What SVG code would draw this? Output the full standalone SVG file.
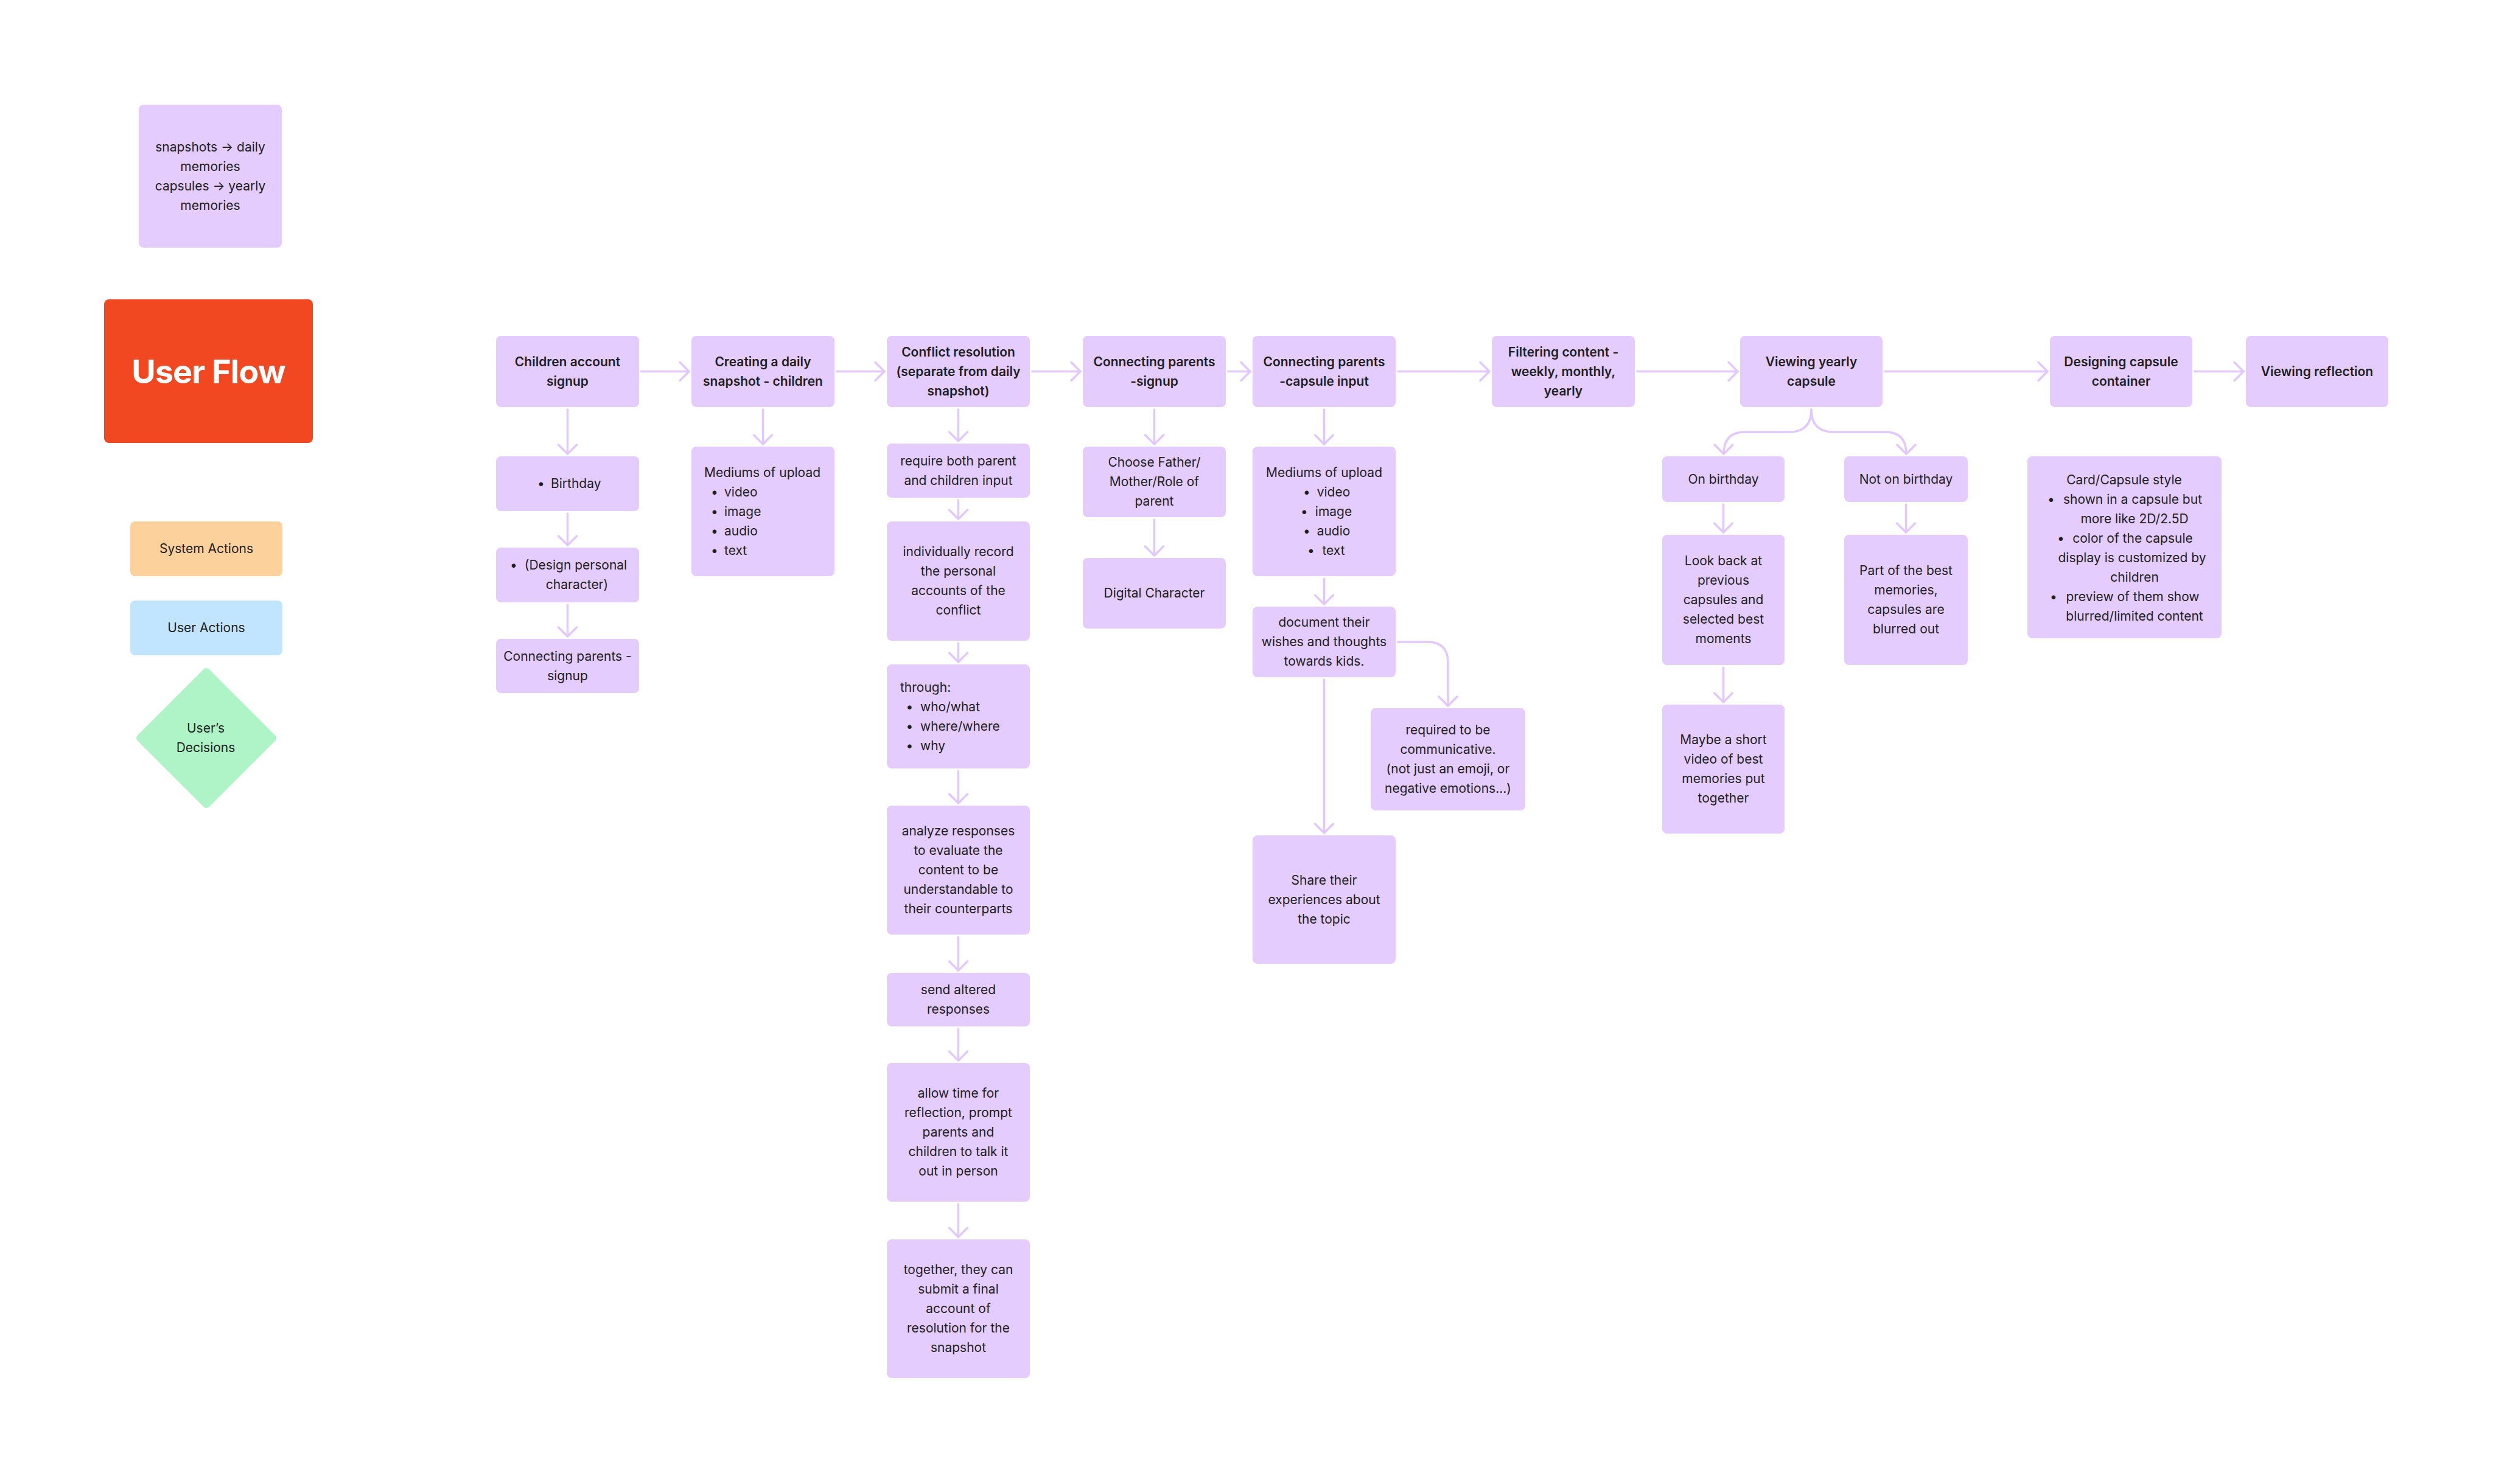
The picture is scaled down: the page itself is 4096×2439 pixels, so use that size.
<svg xmlns="http://www.w3.org/2000/svg" width="4096" height="2439" viewBox="0 0 4096 2439">
<defs>
<style>
.n{fill:#E4CCFF}
.t{font-family:Inter,"Noto Sans","Liberation Sans",sans-serif;font-size:21px;fill:#1E1E1E}
.c{text-anchor:middle}
.b{font-weight:600}
.e{fill:none;stroke:#E1C8FF;stroke-width:3.5;stroke-linecap:round;stroke-linejoin:round}
</style>
<marker id="ah" markerUnits="userSpaceOnUse" markerWidth="40" markerHeight="40" viewBox="-20 -20 40 40" refX="0" refY="0" orient="auto" overflow="visible">
<path d="M-15,-15 L0,0 L-15,15" fill="none" stroke="#E1C8FF" stroke-width="3.5" stroke-linecap="round" stroke-linejoin="round"/>
</marker>
</defs>
<rect width="4096" height="2439" fill="#FFFFFF"/>

<g id="legend">
<g id="note">
<rect class="n" x="228" y="172" width="235" height="235" rx="8"/>
<text class="t c" x="345.5"><tspan x="345.5" y="248.5">snapshots → daily</tspan><tspan x="345.5" y="280.5">memories</tspan><tspan x="345.5" y="312.5">capsules → yearly</tspan><tspan x="345.5" y="344.5">memories</tspan></text>
</g>
<g id="title">
<rect x="171" y="492" width="343" height="236" rx="8" fill="#F24822"/>
<text x="342.5" y="630" text-anchor="middle" font-family="Inter,'Noto Sans','Liberation Sans',sans-serif" font-size="54" font-weight="700" letter-spacing="-1" fill="#FFFFFF">User Flow</text>
</g>
<g id="legend-system">
<rect x="214" y="857" width="250" height="90" rx="8" fill="#FCD19C"/>
<text class="t c" x="339" y="909">System Actions</text>
</g>
<g id="legend-user">
<rect x="214" y="987" width="250" height="90" rx="8" fill="#C2E5FF"/>
<text class="t c" x="339" y="1039">User Actions</text>
</g>
<g id="legend-decision">
<polygon points="339,1104 448,1213 339,1322 230,1213" fill="#AFF4C6" stroke="#AFF4C6" stroke-width="12" stroke-linejoin="round"/>
<text class="t c" x="338"><tspan x="338" y="1204">User’s</tspan><tspan x="338" y="1236">Decisions</tspan></text>
</g>
</g>

<g id="connectors" class="e">
<line x1="1053" y1="610.5" x2="1132" y2="610.5" marker-end="url(#ah)"/>
<line x1="1375" y1="610.5" x2="1453" y2="610.5" marker-end="url(#ah)"/>
<line x1="1696" y1="610.5" x2="1775" y2="610.5" marker-end="url(#ah)"/>
<line x1="2018" y1="610.5" x2="2054" y2="610.5" marker-end="url(#ah)"/>
<line x1="2297" y1="610.5" x2="2447" y2="610.5" marker-end="url(#ah)"/>
<line x1="2690" y1="610.5" x2="2855" y2="610.5" marker-end="url(#ah)"/>
<line x1="3097" y1="610.5" x2="3364" y2="610.5" marker-end="url(#ah)"/>
<line x1="3606" y1="610.5" x2="3686" y2="610.5" marker-end="url(#ah)"/>

<line x1="932.5" y1="673" x2="932.5" y2="746" marker-end="url(#ah)"/>
<line x1="932.5" y1="844" x2="932.5" y2="896" marker-end="url(#ah)"/>
<line x1="932.5" y1="994" x2="932.5" y2="1046" marker-end="url(#ah)"/>
<line x1="1253.5" y1="673" x2="1253.5" y2="730" marker-end="url(#ah)"/>
<line x1="1574.5" y1="673" x2="1574.5" y2="725" marker-end="url(#ah)"/>
<line x1="1574.5" y1="822" x2="1574.5" y2="853" marker-end="url(#ah)"/>
<line x1="1574.5" y1="1057" x2="1574.5" y2="1088" marker-end="url(#ah)"/>
<line x1="1574.5" y1="1267" x2="1574.5" y2="1320" marker-end="url(#ah)"/>
<line x1="1574.5" y1="1540" x2="1574.5" y2="1595" marker-end="url(#ah)"/>
<line x1="1574.5" y1="1691" x2="1574.5" y2="1743" marker-end="url(#ah)"/>
<line x1="1574.5" y1="1979" x2="1574.5" y2="2033" marker-end="url(#ah)"/>
<line x1="1896.5" y1="673" x2="1896.5" y2="730" marker-end="url(#ah)"/>
<line x1="1896.5" y1="854" x2="1896.5" y2="913" marker-end="url(#ah)"/>
<line x1="2175.5" y1="673" x2="2175.5" y2="730" marker-end="url(#ah)"/>
<line x1="2175.5" y1="951" x2="2175.5" y2="993" marker-end="url(#ah)"/>
<line x1="2175.5" y1="1117" x2="2175.5" y2="1369" marker-end="url(#ah)"/>
<path d="M2297,1055 H2345 Q2379,1055 2379,1089 V1160" marker-end="url(#ah)"/>
<path d="M2976,673 Q2976,710 2940,710 H2867 Q2832,710 2832,746" marker-end="url(#ah)"/>
<path d="M2976,673 Q2976,710 3012,710 H3097 Q3132,710 3132,746" marker-end="url(#ah)"/>
<line x1="2831.5" y1="829" x2="2831.5" y2="875" marker-end="url(#ah)"/>
<line x1="2831.5" y1="1097" x2="2831.5" y2="1154" marker-end="url(#ah)"/>
<line x1="3131.5" y1="829" x2="3131.5" y2="875" marker-end="url(#ah)"/>
</g>

<g id="children-signup">
<rect class="n" x="815" y="552" width="235" height="117" rx="8"/>
<text class="t c b"><tspan x="932.5" y="601.5">Children account</tspan><tspan x="932.5" y="633.5">signup</tspan></text>
</g>
<g id="birthday">
<rect class="n" x="815" y="750" width="235" height="90" rx="8"/>
<text class="t c" x="889" y="802">•</text>
<text class="t" x="905" y="802">Birthday</text>
</g>
<g id="design-character">
<rect class="n" x="815" y="900" width="235" height="90" rx="8"/>
<text class="t c" x="844" y="936">•</text>
<text class="t c"><tspan x="946" y="936">(Design personal</tspan><tspan x="948" y="968">character)</tspan></text>
</g>
<g id="connecting-parents-signup-1">
<rect class="n" x="815" y="1050" width="235" height="89" rx="8"/>
<text class="t c"><tspan x="932.5" y="1085.5">Connecting parents -</tspan><tspan x="932.5" y="1117.5">signup</tspan></text>
</g>

<g id="daily-snapshot">
<rect class="n" x="1136" y="552" width="235" height="117" rx="8"/>
<text class="t c b"><tspan x="1253.5" y="601.5">Creating a daily</tspan><tspan x="1253.5" y="633.5">snapshot - children</tspan></text>
</g>
<g id="mediums-1">
<rect class="n" x="1136" y="734" width="235" height="213" rx="8"/>
<text class="t" x="1157" y="783.5">Mediums of upload</text>
<text class="t c"><tspan x="1174" y="815.5">•</tspan><tspan x="1174" y="847.5">•</tspan><tspan x="1174" y="879.5">•</tspan><tspan x="1174" y="911.5">•</tspan></text>
<text class="t"><tspan x="1190" y="815.5">video</tspan><tspan x="1190" y="847.5">image</tspan><tspan x="1190" y="879.5">audio</tspan><tspan x="1190" y="911.5">text</tspan></text>
</g>

<g id="conflict-resolution">
<rect class="n" x="1457" y="552" width="235" height="117" rx="8"/>
<text class="t c b"><tspan x="1574.5" y="585.5">Conflict resolution</tspan><tspan x="1574.5" y="617.5">(separate from daily</tspan><tspan x="1574.5" y="649.5">snapshot)</tspan></text>
</g>
<g id="require-input">
<rect class="n" x="1457" y="729" width="235" height="89" rx="8"/>
<text class="t c"><tspan x="1574.5" y="764.5">require both parent</tspan><tspan x="1574.5" y="796.5">and children input</tspan></text>
</g>
<g id="record-accounts">
<rect class="n" x="1457" y="857" width="235" height="196" rx="8"/>
<text class="t c"><tspan x="1574.5" y="914">individually record</tspan><tspan x="1574.5" y="946">the personal</tspan><tspan x="1574.5" y="978">accounts of the</tspan><tspan x="1574.5" y="1010">conflict</tspan></text>
</g>
<g id="through">
<rect class="n" x="1457" y="1092" width="235" height="171" rx="8"/>
<text class="t" x="1479" y="1136.5">through:</text>
<text class="t c"><tspan x="1494.5" y="1168.5">•</tspan><tspan x="1494.5" y="1200.5">•</tspan><tspan x="1494.5" y="1232.5">•</tspan></text>
<text class="t"><tspan x="1512" y="1168.5">who/what</tspan><tspan x="1512" y="1200.5">where/where</tspan><tspan x="1512" y="1232.5">why</tspan></text>
</g>
<g id="analyze">
<rect class="n" x="1457" y="1324" width="235" height="212" rx="8"/>
<text class="t c"><tspan x="1574.5" y="1373">analyze responses</tspan><tspan x="1574.5" y="1405">to evaluate the</tspan><tspan x="1574.5" y="1437">content to be</tspan><tspan x="1574.5" y="1469">understandable to</tspan><tspan x="1574.5" y="1501">their counterparts</tspan></text>
</g>
<g id="send-altered">
<rect class="n" x="1457" y="1599" width="235" height="88" rx="8"/>
<text class="t c"><tspan x="1574.5" y="1634">send altered</tspan><tspan x="1574.5" y="1666">responses</tspan></text>
</g>
<g id="allow-time">
<rect class="n" x="1457" y="1747" width="235" height="228" rx="8"/>
<text class="t c"><tspan x="1574.5" y="1804">allow time for</tspan><tspan x="1574.5" y="1836">reflection, prompt</tspan><tspan x="1574.5" y="1868">parents and</tspan><tspan x="1574.5" y="1900">children to talk it</tspan><tspan x="1574.5" y="1932">out in person</tspan></text>
</g>
<g id="together">
<rect class="n" x="1457" y="2037" width="235" height="228" rx="8"/>
<text class="t c"><tspan x="1574.5" y="2094">together, they can</tspan><tspan x="1574.5" y="2126">submit a final</tspan><tspan x="1574.5" y="2158">account of</tspan><tspan x="1574.5" y="2190">resolution for the</tspan><tspan x="1574.5" y="2222">snapshot</tspan></text>
</g>

<g id="parents-signup">
<rect class="n" x="1779" y="552" width="235" height="117" rx="8"/>
<text class="t c b"><tspan x="1896.5" y="601.5">Connecting parents</tspan><tspan x="1896.5" y="633.5">-signup</tspan></text>
</g>
<g id="choose-role">
<rect class="n" x="1779" y="734" width="235" height="116" rx="8"/>
<text class="t c"><tspan x="1896.5" y="767">Choose Father/</tspan><tspan x="1896.5" y="799">Mother/Role of</tspan><tspan x="1896.5" y="831">parent</tspan></text>
</g>
<g id="digital-character">
<rect class="n" x="1779" y="917" width="235" height="116" rx="8"/>
<text class="t c" x="1896.5" y="982">Digital Character</text>
</g>

<g id="capsule-input">
<rect class="n" x="2058" y="552" width="235" height="117" rx="8"/>
<text class="t c b"><tspan x="2175.5" y="601.5">Connecting parents</tspan><tspan x="2175.5" y="633.5">-capsule input</tspan></text>
</g>
<g id="mediums-2">
<rect class="n" x="2058" y="734" width="235" height="213" rx="8"/>
<text class="t c" x="2175.5" y="783.5">Mediums of upload</text>
<text class="t c"><tspan x="2147" y="815.5">•</tspan><tspan x="2143" y="847.5">•</tspan><tspan x="2147" y="879.5">•</tspan><tspan x="2154" y="911.5">•</tspan></text>
<text class="t c"><tspan x="2191" y="815.5">video</tspan><tspan x="2191" y="847.5">image</tspan><tspan x="2191" y="879.5">audio</tspan><tspan x="2191" y="911.5">text</tspan></text>
</g>
<g id="document-wishes">
<rect class="n" x="2058" y="997" width="235" height="116" rx="8"/>
<text class="t c"><tspan x="2175.5" y="1030">document their</tspan><tspan x="2175.5" y="1062">wishes and thoughts</tspan><tspan x="2175.5" y="1094">towards kids.</tspan></text>
</g>
<g id="communicative">
<rect class="n" x="2252" y="1164" width="254" height="168" rx="8"/>
<text class="t c"><tspan x="2379" y="1207">required to be</tspan><tspan x="2379" y="1239">communicative.</tspan><tspan x="2379" y="1271">(not just an emoji, or</tspan><tspan x="2379" y="1303">negative emotions...)</tspan></text>
</g>
<g id="share-experiences">
<rect class="n" x="2058" y="1373" width="235" height="211" rx="8"/>
<text class="t c"><tspan x="2175.5" y="1453.5">Share their</tspan><tspan x="2175.5" y="1485.5">experiences about</tspan><tspan x="2175.5" y="1517.5">the topic</tspan></text>
</g>

<g id="filtering">
<rect class="n" x="2451" y="552" width="235" height="117" rx="8"/>
<text class="t c b"><tspan x="2568.5" y="585.5">Filtering content -</tspan><tspan x="2568.5" y="617.5">weekly, monthly,</tspan><tspan x="2568.5" y="649.5">yearly</tspan></text>
</g>

<g id="viewing-yearly">
<rect class="n" x="2859" y="552" width="234" height="117" rx="8"/>
<text class="t c b"><tspan x="2976" y="601.5">Viewing yearly</tspan><tspan x="2976" y="633.5">capsule</tspan></text>
</g>
<g id="on-birthday">
<rect class="n" x="2731" y="750" width="201" height="75" rx="8"/>
<text class="t c" x="2831.5" y="794.5">On birthday</text>
</g>
<g id="not-on-birthday">
<rect class="n" x="3030" y="750" width="203" height="75" rx="8"/>
<text class="t c" x="3131.5" y="794.5">Not on birthday</text>
</g>
<g id="look-back">
<rect class="n" x="2731" y="879" width="201" height="214" rx="8"/>
<text class="t c"><tspan x="2831.5" y="929">Look back at</tspan><tspan x="2831.5" y="961">previous</tspan><tspan x="2831.5" y="993">capsules and</tspan><tspan x="2831.5" y="1025">selected best</tspan><tspan x="2831.5" y="1057">moments</tspan></text>
</g>
<g id="blurred">
<rect class="n" x="3030" y="879" width="203" height="214" rx="8"/>
<text class="t c"><tspan x="3131.5" y="945">Part of the best</tspan><tspan x="3131.5" y="977">memories,</tspan><tspan x="3131.5" y="1009">capsules are</tspan><tspan x="3131.5" y="1041">blurred out</tspan></text>
</g>
<g id="short-video">
<rect class="n" x="2731" y="1158" width="201" height="212" rx="8"/>
<text class="t c"><tspan x="2831.5" y="1223">Maybe a short</tspan><tspan x="2831.5" y="1255">video of best</tspan><tspan x="2831.5" y="1287">memories put</tspan><tspan x="2831.5" y="1319">together</tspan></text>
</g>

<g id="designing-container">
<rect class="n" x="3368" y="552" width="234" height="117" rx="8"/>
<text class="t c b"><tspan x="3485" y="601.5">Designing capsule</tspan><tspan x="3485" y="633.5">container</tspan></text>
</g>
<g id="card-style">
<rect class="n" x="3331" y="750" width="319" height="299" rx="8"/>
<text class="t c" x="3490" y="796">Card/Capsule style</text>
<text class="t c"><tspan x="3370" y="828">•</tspan><tspan x="3386" y="892">•</tspan><tspan x="3374" y="988">•</tspan></text>
<text class="t c"><tspan x="3504" y="828">shown in a capsule but</tspan><tspan x="3507" y="860">more like 2D/2.5D</tspan><tspan x="3504" y="892">color of the capsule</tspan><tspan x="3503" y="924">display is customized by</tspan><tspan x="3507" y="956">children</tspan><tspan x="3504" y="988">preview of them show</tspan><tspan x="3507" y="1020">blurred/limited content</tspan></text>
</g>

<g id="viewing-reflection">
<rect class="n" x="3690" y="552" width="234" height="117" rx="8"/>
<text class="t c b" x="3807" y="617.5">Viewing reflection</text>
</g>
</svg>
